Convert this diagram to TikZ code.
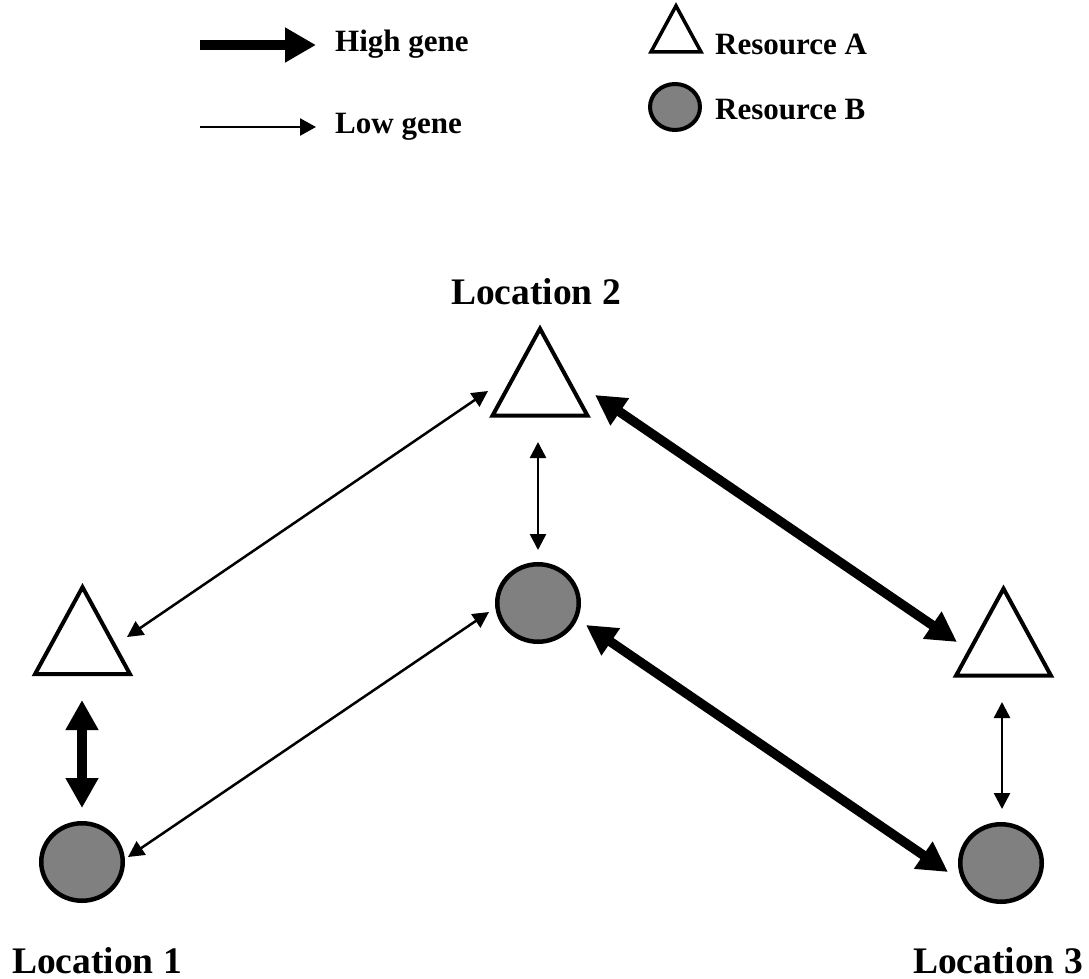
\documentclass[tikz,border=0pt]{standalone}
\usepackage{fontspec}
\setmainfont{Liberation Serif}
\usetikzlibrary{arrows.meta,shapes.geometric}
\definecolor{resgray}{RGB}{128,128,128}
\begin{document}
\begin{tikzpicture}[x=1pt,y=-1pt,
  tri/.style={draw, line width=4pt, fill=white, isosceles triangle, isosceles triangle stretches,
    shape border rotate=90, minimum width=95pt, minimum height=87pt, inner sep=0pt, line join=miter},
  circ/.style={draw, line width=4.5pt, fill=resgray, ellipse, minimum width=81.5pt, minimum height=77.5pt, inner sep=0pt},
  legtri/.style={tri, line width=3.5pt, minimum width=50pt, minimum height=46pt},
  legcirc/.style={circ, line width=4pt, minimum width=50pt, minimum height=46pt},
  legtext/.style={anchor=base west, inner sep=0pt, font=\fontsize{31}{31}\selectfont\bfseries},
  loctext/.style={anchor=base, inner sep=0pt, font=\fontsize{37.5}{37.5}\selectfont\bfseries},
  high/.style={line width=9.5pt, {Triangle[length=30pt,width=31pt]}-{Triangle[length=30pt,width=31pt]}},
  low/.style={line width=2.5pt, {Triangle[length=16pt,width=16pt]}-{Triangle[length=16pt,width=16pt]}},
  highleg/.style={line width=10pt, -{Triangle[length=31pt,width=33pt]}},
  lowleg/.style={line width=2.5pt, -{Triangle[length=16pt,width=17pt]}}
]
\useasboundingbox (0,0) rectangle (1089,979);

% legend
\coordinate (hs) at (200,45);
\coordinate (he) at (316,45);
\coordinate (ls) at (200,127);
\coordinate (le) at (316,127);
\draw[highleg] (hs) -- (he);
\draw[lowleg] (ls) -- (le);
\node[legtext] (hg) at (335,52) {High gene};
\node[legtext] (lg) at (335,133) {Low gene};
\node[legtri] (lt) at (676,37) {};
\node[legcirc] (lc) at (675,107) {};
\node[legtext] (ra) at (715,55) {Resource A};
\node[legtext] (rb) at (715,120) {Resource B};

% locations
\node[tri] (t1) at (82.5,646) {};
\node[tri] (t2) at (540,387.5) {};
\node[tri] (t3) at (1003.5,647.5) {};
\node[circ] (c1) at (82,862) {};
\node[circ] (c2) at (538,603) {};
\node[circ] (c3) at (1001,863) {};

\node[loctext] (l1) at (97,973) {Location 1};
\node[loctext] (l2) at (536,304) {Location 2};
\node[loctext] (l3) at (998,973) {Location 3};

% arrow end points
\coordinate (a1) at (127,637);
\coordinate (a2) at (488,391);
\coordinate (b1) at (128,857);
\coordinate (b2) at (489,612);
\coordinate (d1) at (595,395);
\coordinate (d2) at (957,642);
\coordinate (e1) at (586,625);
\coordinate (e2) at (948,872);
\coordinate (v1a) at (82,700);
\coordinate (v1b) at (82,808);
\coordinate (v2a) at (538,442);
\coordinate (v2b) at (538,550);
\coordinate (v3a) at (1002,702);
\coordinate (v3b) at (1002,809);

\draw[low] (a1) -- (a2);
\draw[low] (b1) -- (b2);
\draw[high] (d1) -- (d2);
\draw[high] (e1) -- (e2);
\draw[high] (v1a) -- (v1b);
\draw[low] (v2a) -- (v2b);
\draw[low] (v3a) -- (v3b);
\end{tikzpicture}
\end{document}
